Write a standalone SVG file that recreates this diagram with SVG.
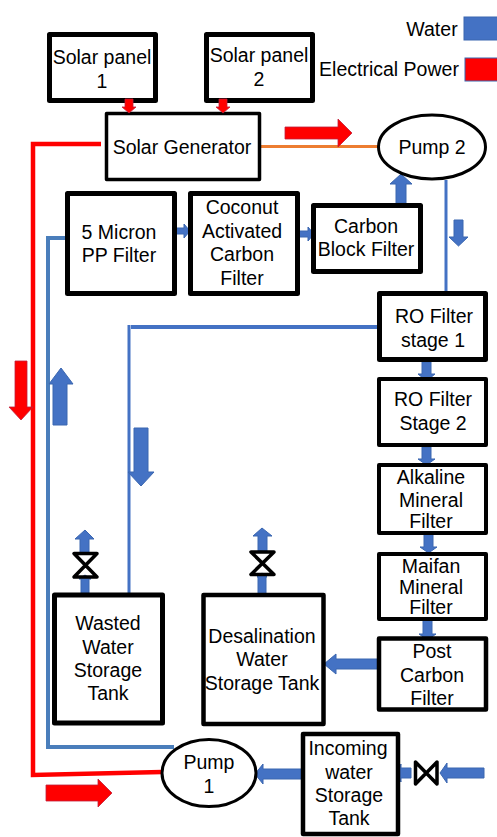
<svg xmlns="http://www.w3.org/2000/svg" width="497" height="837" viewBox="0 0 497 837">
<style>
.b{fill:#fff;stroke:#000;stroke-linejoin:round}
.e{fill:#fff;stroke:#000;stroke-width:3}
text{font-family:"Liberation Sans",Arial,sans-serif;font-size:19.5px;fill:#000;text-anchor:middle}
.w{fill:none;stroke:#4472c4;stroke-width:3}
.w2{fill:none;stroke:#4a7ebb;stroke-width:4}
.aw{fill:#4472c4;stroke:#3a66b0;stroke-width:1}
.ar{fill:#f00;stroke:#c0203a;stroke-width:.8}
.v{fill:none;stroke:#000;stroke-width:3.5;stroke-linejoin:round}
</style>
<rect width="497" height="837" fill="#fff"/>
<g id="connectors">
<path d="M101 144H33V775L162 772" fill="none" stroke="#f00" stroke-width="4.500"/>
<path d="M260 146.500H378" fill="none" stroke="#ed7d31" stroke-width="3"/>
<path d="M446 180V291" class="w"/>
<path d="M377 327H131" fill="none" stroke="#4472c4" stroke-width="4"/>
<path d="M129 325V594" class="w"/>
<path d="M66 238H48V747H174" class="w2"/>
<path class="ar" d="M285 127h53v-8l14 14-14 14v-8h-53z"/>
<path class="ar" d="M46 785h52v-6l14 14-14 14v-6h-52z"/>
<path class="ar" d="M15 361h12v46h6l-12 13-12-13h6z"/>
<path class="aw" d="M174 228h10v-4l6 7-6 7v-4h-10z"/>
<path class="aw" d="M298 231h10v-4l6 7-6 7v-4h-10z"/>
<path class="aw" d="M396 203v-19h-6l11-10 11 10h-6v19z"/>
<path class="aw" d="M454 220h9v17h5l-9.500 9-9.500-9h5z"/>
<path class="aw" d="M422 362h9v12h4l-8.500 7-8.500-7h4z"/>
<path class="aw" d="M422 447h9v12h4l-8.500 6-8.500-6h4z"/>
<path class="aw" d="M424 531h9v16h4l-8.500 6-8.500-6h4z"/>
<path class="aw" d="M423 620h9v14h4l-8.500 6-8.500-6h4z"/>
<path class="aw" d="M378 659h-42v-5l-12 10 12 10v-5h42z"/>
<path class="aw" d="M302 769h-39v-5l-8 10 8 10v-5h39z"/>
<path class="aw" d="M411 768h-10v-4l-5 9 5 9v-4h10z"/>
<path class="aw" d="M484 768h-37v-5l-7 10 7 10v-5h37z"/>
<path class="aw" d="M53 425V384h-4l12-16 12 16h-6v41z"/>
<path class="aw" d="M134 428h14v44h6l-13 14-13-14h6z"/>
<path class="aw" d="M81 594v-15h-2l6-4 6 4h-2v15z"/>
<path class="aw" d="M80 553v-14h-5l10-9 9 9h-5v14z"/>
<path class="aw" d="M258 594v-17h-1l5-4 5 4h-1v17z"/>
<path class="aw" d="M258 551v-15h-5l9-8 10 8h-5v15z"/>
<path class="v" d="M74 553.500H97L74 577H97Z"/>
<path class="v" d="M251 552H274L251 574.500H274Z"/>
<path class="v" d="M415.500 762V784L437 762V784Z"/>
</g>
<g id="legend-water"><text x="432" y="36">Water</text><rect x="464" y="17" width="34" height="23" fill="#4472c4" stroke="#3a66b0"/></g>
<g id="legend-power"><text x="389" y="76">Electrical Power</text><rect x="465" y="58" width="33" height="23" fill="#f00" stroke="#3a66b0"/></g>
<g id="solar1"><rect class="b" x="49.500" y="34.500" width="106" height="66" stroke-width="5"/><text x="102" y="64">Solar panel</text><text x="102" y="88">1</text></g>
<g id="solar2"><rect class="b" x="206.500" y="34.500" width="106" height="66" stroke-width="5"/><text x="259" y="62">Solar panel</text><text x="259" y="86">2</text></g>
<g id="generator"><rect class="b" x="106.500" y="113.500" width="153" height="66" stroke-width="3.500"/><text x="182" y="153.500">Solar Generator</text></g>
<g id="pump2"><ellipse class="e" cx="432" cy="147" rx="53.500" ry="32"/><text x="432" y="154">Pump 2</text></g>
<g id="micron"><rect class="b" x="67.500" y="193.500" width="107" height="100" stroke-width="5"/><text x="119" y="239">5 Micron</text><text x="119" y="262">PP Filter</text></g>
<g id="coconut"><rect class="b" x="190.500" y="193.500" width="107" height="100" stroke-width="5"/><text x="242" y="214">Coconut</text><text x="242" y="237.500">Activated</text><text x="242" y="261">Carbon</text><text x="242" y="284.500">Filter</text></g>
<g id="carbon-block"><rect class="b" x="313.500" y="205.500" width="107" height="66" stroke-width="5"/><text x="366" y="233">Carbon</text><text x="366" y="256">Block Filter</text></g>
<g id="ro1"><rect class="b" x="379.500" y="293.500" width="106" height="66" stroke-width="5"/><text x="434" y="323">RO Filter</text><text x="433" y="347">stage 1</text></g>
<g id="ro2"><rect class="b" x="379" y="379" width="107" height="66" stroke-width="4"/><text x="433" y="406">RO Filter</text><text x="433" y="430">Stage 2</text></g>
<g id="alkaline"><rect class="b" x="379" y="465" width="107" height="68" stroke-width="4"/><text x="431" y="484">Alkaline</text><text x="431" y="507">Mineral</text><text x="431" y="528">Filter</text></g>
<g id="maifan"><rect class="b" x="379" y="554" width="107" height="65" stroke-width="4"/><text x="431" y="573">Maifan</text><text x="431" y="594">Mineral</text><text x="431" y="614">Filter</text></g>
<g id="post"><rect class="b" x="379" y="638.500" width="107" height="71" stroke-width="4.500"/><text x="432" y="658">Post</text><text x="432" y="682">Carbon</text><text x="432" y="705">Filter</text></g>
<g id="wasted"><rect class="b" x="54.500" y="595" width="108" height="128" stroke-width="5"/><text x="108" y="630">Wasted</text><text x="108" y="654">Water</text><text x="108" y="677">Storage</text><text x="108" y="700">Tank</text></g>
<g id="desalination"><rect class="b" x="203.500" y="595" width="120" height="129" stroke-width="4.500"/><text x="262" y="642.500">Desalination</text><text x="262" y="666">Water</text><text x="262" y="690">Storage Tank</text></g>
<g id="pump1"><ellipse class="e" cx="209" cy="773" rx="47" ry="33.500"/><text x="209" y="769">Pump</text><text x="209" y="793">1</text></g>
<g id="incoming"><rect class="b" x="303" y="734" width="95" height="100" stroke-width="4.500"/><text x="348" y="755">Incoming</text><text x="349" y="779">water</text><text x="349" y="801.500">Storage</text><text x="349" y="825">Tank</text></g>
<g id="panel-arrows">
<path class="ar" d="M125 99h8v8h3l-7 6-7-6h3z"/>
<path class="ar" d="M219 99h8v8h3l-7 6-7-6h3z"/>
</g>
</svg>
